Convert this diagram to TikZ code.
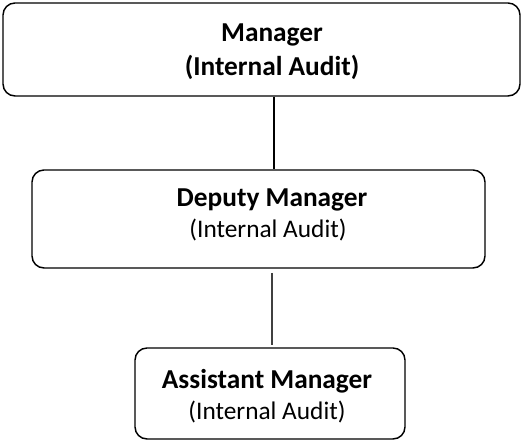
\documentclass[tikz,border=0pt]{standalone}
\usepackage{fontspec}
\setmainfont{Carlito}
\begin{document}
\begin{tikzpicture}[x=0.75pt,y=-0.75pt,
  box/.style={draw=black, line width=1.1pt, rounded corners=9pt, inner sep=0pt},
  title/.style={anchor=base, font=\bfseries\fontsize{20.5}{24}\selectfont},
  sub/.style={anchor=base, font=\fontsize{19}{22}\selectfont},
  subbold/.style={anchor=base, font=\bfseries\fontsize{20.5}{24}\selectfont}]
\useasboundingbox (0,0) rectangle (522,441);
% boxes
\node[box, minimum width=387.75pt, minimum height=69.75pt] (mgr) at (261.5,49.5) {};
\node[box, minimum width=339.75pt, minimum height=73.5pt] (dep) at (258.5,219) {};
\node[box, minimum width=202.5pt, minimum height=68.25pt] (ast) at (270,393.5) {};
% labels
\node[title] (mgrA) at (272,42) {Manager};
\node[subbold] (mgrB) at (272,76) {(Internal Audit)};
\node[title] (depA) at (272,207) {Deputy Manager};
\node[sub] (depB) at (268,238) {(Internal Audit)};
\node[title] (astA) at (267,389) {Assistant Manager};
\node[sub] (astB) at (267,420) {(Internal Audit)};
% connectors
\coordinate (up) at (274,0);
\draw[line width=1.1pt] (mgr.south -| up) -- (dep.north -| up);
\coordinate (lowA) at (272,273);
\coordinate (lowB) at (272,345);
\draw[line width=0.9pt, draw=black!75] (lowA) -- (lowB);
\end{tikzpicture}
\end{document}
